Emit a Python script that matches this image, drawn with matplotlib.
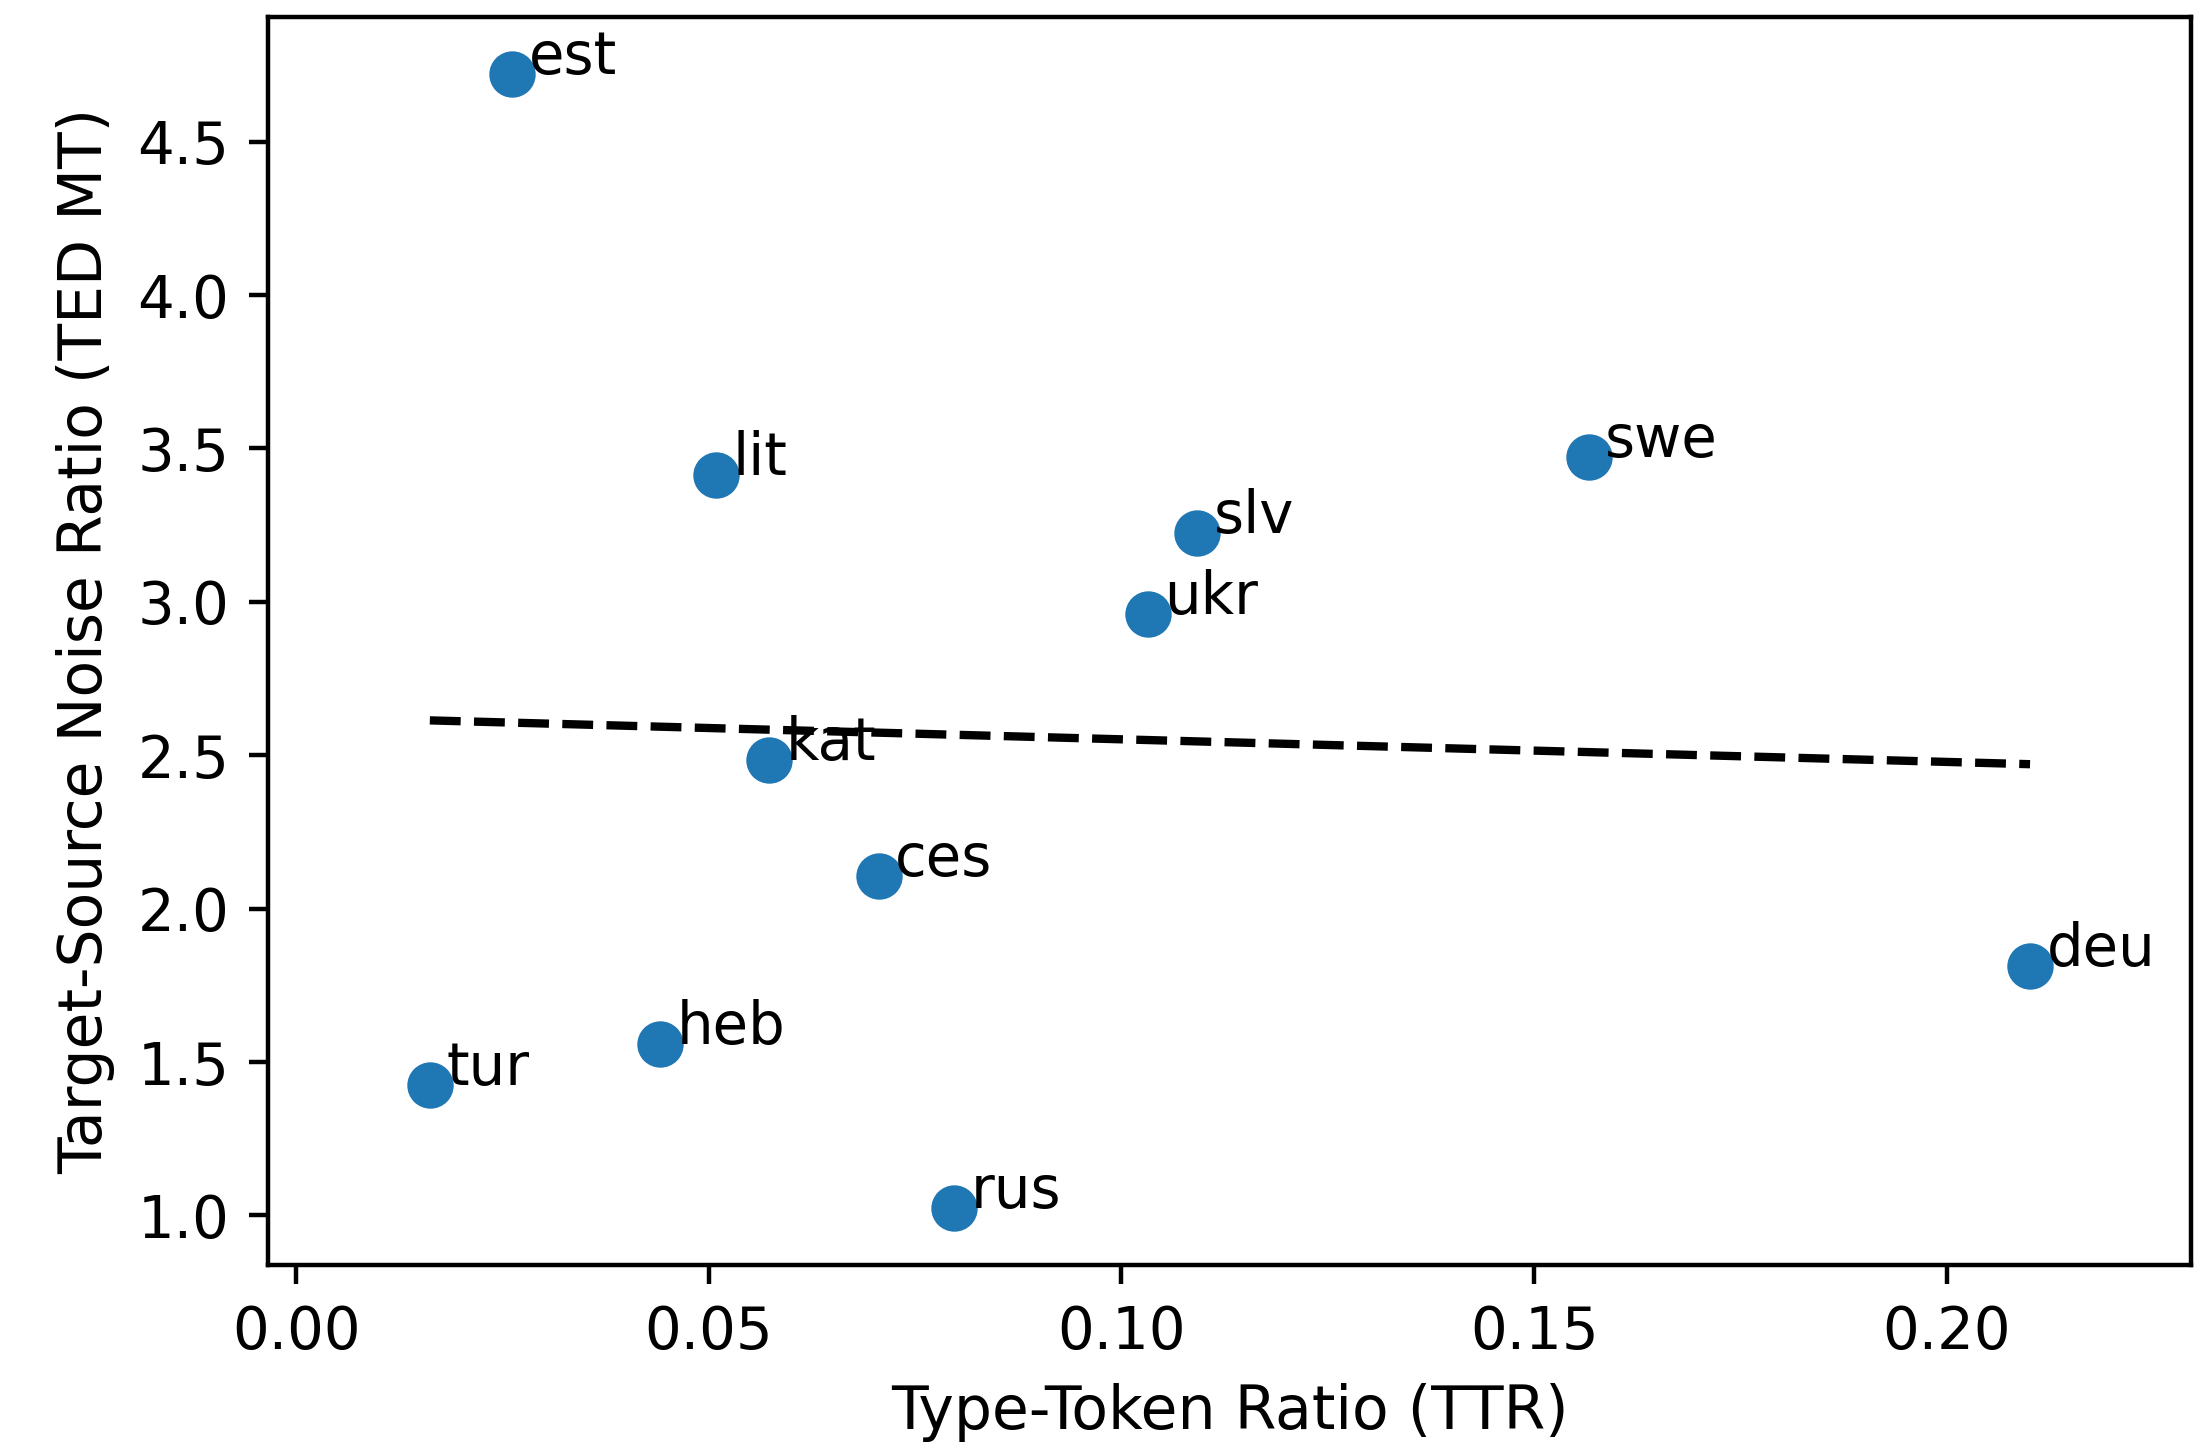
"""
TTR vs target-source noise ratio (TED MT), with a linear fit.
"""
import numpy as np
import matplotlib.pyplot as plt

plt.rcParams['font.size'] = 10.4

# ------------------------------
# Data
# ------------------------------
langs = ['est', 'lit', 'swe', 'slv', 'ukr', 'kat', 'ces', 'deu', 'heb', 'tur', 'rus']
ttr = [0.0262, 0.0509, 0.1566, 0.1092, 0.1032, 0.0573, 0.0706, 0.2101, 0.0441, 0.0162, 0.0797]
noise_ratio = [4.72, 3.413, 3.473, 3.224, 2.960, 2.484, 2.105, 1.814, 1.559, 1.425, 1.023]

x = np.array(ttr)
y = np.array(noise_ratio)

# ------------------------------
# Linear fit
# ------------------------------
slope, intercept = np.polyfit(x, y, 1)
xs = np.array([x.min(), x.max()])

fig = plt.figure(figsize=(5.53, 3.62), dpi=400)
ax = fig.add_axes([0.1212, 0.1263, 0.8693, 0.8617])

ax.scatter(x, y, s=54, color='#1f77b4', zorder=2)
ax.plot(xs, slope * xs + intercept, 'k--', lw=1.5, zorder=3)
for lab, xi, yi in zip(langs, x, y):
    ax.text(xi + 0.002, yi, lab, fontsize=10.4, zorder=4)

ax.set_xlim(-0.0034, 0.2296)
ax.set_xticks([0.0, 0.05, 0.10, 0.15, 0.20])
ax.set_xlabel('Type-Token Ratio (TTR)', fontsize=10.8)
ax.set_ylabel('Target-Source Noise Ratio (TED MT)', fontsize=10.8)

fig.savefig('out.png', dpi=400)
